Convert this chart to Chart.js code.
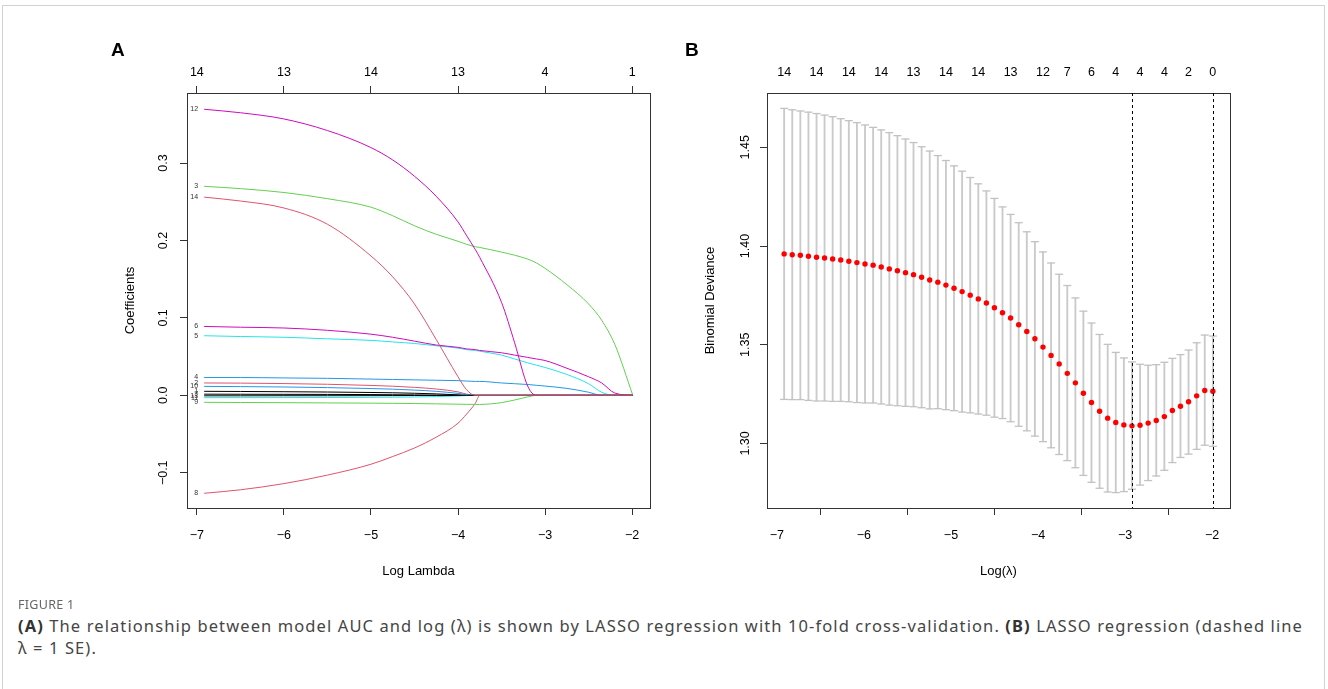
<!DOCTYPE html>
<html>
<head>
<meta charset="utf-8">
<script src="https://cdn.jsdelivr.net/npm/chart.js@4.4.1/dist/chart.umd.min.js"></script>
<style>
  html, body { margin: 0; padding: 0; background: #fff; }
  body { width: 1328px; height: 689px; position: relative; overflow: hidden; }
  .frame { position: absolute; left: 2px; top: 5px; width: 1321px; height: 720px; border: 1px solid #d2d2d2; }
  #wrapA { position: absolute; left: 0; top: 0; width: 680px; height: 600px; }
  #wrapB { position: absolute; left: 680px; top: 0; width: 648px; height: 600px; }
  .panel { position: absolute; font: bold 19px "Liberation Sans", Arial, sans-serif; color: #000; line-height: 19px; }
  .fig { position: absolute; left: 18px; top: 596px; font: 12.5px "Noto Sans", sans-serif; color: #666; letter-spacing: 0.3px; }
  .cap { position: absolute; left: 18px; top: 615px; font: 16.5px "Noto Sans", sans-serif; color: #454545; line-height: 22px; white-space: nowrap; letter-spacing: 1.1px; }
  .cap b { color: #333; }
</style>
</head>
<body>
<div class="frame"></div>
<div id="wrapA"><canvas id="chartA" width="680" height="600"></canvas></div>
<div id="wrapB"><canvas id="chartB" width="648" height="600"></canvas></div>
<div class="panel" style="left:111px; top:40px;">A</div>
<div class="panel" style="left:685px; top:40px;">B</div>
<div class="fig">FIGURE 1</div>
<div class="cap"><b>(A)</b> The relationship between model AUC and log (λ) is shown by LASSO regression with 10-fold cross-validation. <b>(B)</b> LASSO regression (dashed line<br>λ = 1 SE).</div>

<script>
const FONT = '"Liberation Sans", Arial, sans-serif';
const minus = v => String(v).replace('-', '\u2212');

// ---- panel A: coefficient paths ----
const pathLambda = [-6.916, -6.5, -6.0, -5.5, -5.0, -4.75, -4.5, -4.25, -4.0, -3.9, -3.8, -3.75, -3.5, -3.35, -3.2, -3.1, -3.0, -2.75, -2.5, -2.35, -2.2, -1.992];

const coef1  = [0.0052, 0.0050, 0.0047, 0.0043, 0.0037, 0.0033, 0.0027, 0.0019, 0.0006, 0, 0, 0, 0, 0, 0, 0, 0, 0, 0, 0, 0, 0];
const coef2  = [0.0160, 0.0158, 0.0152, 0.0143, 0.0128, 0.0118, 0.0103, 0.0082, 0.0045, 0.0015, 0, 0, 0, 0, 0, 0, 0, 0, 0, 0, 0, 0];
const coef3  = [0.270, 0.267, 0.262, 0.254, 0.243, 0.232, 0.219, 0.208, 0.199, 0.195, 0.192, 0.191, 0.185, 0.181, 0.176, 0.171, 0.164, 0.143, 0.118, 0.097, 0.066, 0];
const coef4  = [0.0230, 0.0230, 0.0225, 0.0220, 0.0210, 0.0205, 0.0200, 0.0195, 0.0190, 0.0185, 0.0180, 0.0180, 0.0160, 0.0150, 0.0140, 0.0130, 0.0120, 0.0090, 0.0040, 0, 0, 0];
const coef5  = [0.077, 0.076, 0.075, 0.073, 0.071, 0.069, 0.067, 0.064, 0.061, 0.059, 0.058, 0.057, 0.052, 0.047, 0.042, 0.039, 0.036, 0.027, 0.015, 0.004, 0, 0];
const coef6  = [0.089, 0.088, 0.087, 0.084, 0.079, 0.075, 0.070, 0.065, 0.062, 0.060, 0.059, 0.058, 0.055, 0.052, 0.049, 0.047, 0.045, 0.035, 0.024, 0.016, 0.003, 0];
const coef7  = [0.0015, 0.0014, 0.0013, 0.0012, 0.0010, 0.0008, 0.0006, 0.0003, 0.0001, 0, 0, 0, 0, 0, 0, 0, 0, 0, 0, 0, 0, 0];
const coef8  = [-0.1265, -0.122, -0.114, -0.103, -0.089, -0.079, -0.068, -0.054, -0.036, -0.024, -0.010, 0, 0, 0, 0, 0, 0, 0, 0, 0, 0, 0];
const coef9  = [-0.0090, -0.0092, -0.0095, -0.0098, -0.0101, -0.0103, -0.0106, -0.0110, -0.0114, -0.0116, -0.0117, -0.0117, -0.0094, -0.0060, -0.0020, 0, 0, 0, 0, 0, 0, 0];
const coef10 = [0.0116, 0.0113, 0.0108, 0.0100, 0.0088, 0.0080, 0.0068, 0.0052, 0.0025, 0.0010, 0, 0, 0, 0, 0, 0, 0, 0, 0, 0, 0, 0];
const coef11 = [-0.0030, -0.0030, -0.0029, -0.0028, -0.0026, -0.0024, -0.0021, -0.0016, -0.0008, -0.0003, 0, 0, 0, 0, 0, 0, 0, 0, 0, 0, 0, 0];
const coef12 = [0.3695, 0.365, 0.357, 0.342, 0.320, 0.304, 0.283, 0.257, 0.224, 0.206, 0.188, 0.178, 0.120, 0.068, 0.012, 0, 0, 0, 0, 0, 0, 0];
const coef13 = [-0.0006, -0.0006, -0.0005, -0.0005, -0.0004, -0.0003, -0.0002, -0.0001, 0, 0, 0, 0, 0, 0, 0, 0, 0, 0, 0, 0, 0, 0];
const coef14 = [0.256, 0.251, 0.242, 0.221, 0.180, 0.153, 0.118, 0.072, 0.024, 0.007, 0, 0, 0, 0, 0, 0, 0, 0, 0, 0, 0, 0];

const xTicks = [-7, -6, -5, -4, -3, -2];
const dfTopA = ['14', '13', '14', '13', '4', '1'];
const yTicksA = [-0.1, 0.0, 0.1, 0.2, 0.3];
const yLabelsA = ['\u22120.1', '0.0', '0.1', '0.2', '0.3'];

// R's matplot colours 1:6
const rCols = ['#000000', '#DF536B', '#61D04F', '#2297E6', '#28E2E5', '#CD0BBC'];

// ---- panel B: cross-validation curve ----
const logLambdaB = [-6.916, -6.823, -6.730, -6.637, -6.544, -6.452, -6.359, -6.266, -6.173, -6.080,
  -5.987, -5.894, -5.801, -5.708, -5.615, -5.522, -5.430, -5.337, -5.244, -5.151,
  -5.058, -4.965, -4.872, -4.779, -4.686, -4.593, -4.501, -4.408, -4.315, -4.222,
  -4.129, -4.036, -3.943, -3.850, -3.757, -3.664, -3.571, -3.479, -3.386, -3.293,
  -3.200, -3.107, -3.014, -2.921, -2.828, -2.735, -2.642, -2.549, -2.457, -2.364,
  -2.271, -2.178, -2.085, -1.992];
const meanDev = [1.3960, 1.3956, 1.3953, 1.3948, 1.3943, 1.3939, 1.3934, 1.3929, 1.3923, 1.3916,
  1.3909, 1.3903, 1.3894, 1.3884, 1.3875, 1.3865, 1.3855, 1.3842, 1.3828, 1.3817,
  1.3802, 1.3786, 1.3769, 1.3751, 1.3732, 1.3711, 1.3687, 1.3662, 1.3635, 1.3601,
  1.3567, 1.3530, 1.3488, 1.3446, 1.3403, 1.3355, 1.3307, 1.3254, 1.3207, 1.3163,
  1.3128, 1.3106, 1.3094, 1.3089, 1.3092, 1.3103, 1.3116, 1.3136, 1.3167, 1.3188,
  1.3211, 1.3241, 1.3268, 1.3264];
const upperDev = [1.4697, 1.4690, 1.4684, 1.4678, 1.4671, 1.4663, 1.4655, 1.4645, 1.4635, 1.4625,
  1.4613, 1.4601, 1.4588, 1.4574, 1.4559, 1.4542, 1.4524, 1.4503, 1.4481, 1.4458,
  1.4433, 1.4406, 1.4379, 1.4347, 1.4315, 1.4279, 1.4241, 1.4198, 1.4160, 1.4118,
  1.4072, 1.4022, 1.3970, 1.3914, 1.3857, 1.3800, 1.3737, 1.3670, 1.3610, 1.3552,
  1.3502, 1.3461, 1.3433, 1.3413, 1.3401, 1.3396, 1.3399, 1.3411, 1.3431, 1.3450,
  1.3473, 1.3510, 1.3549, 1.3544];
const lowerDev = [1.3223, 1.3222, 1.3222, 1.3218, 1.3215, 1.3215, 1.3213, 1.3213, 1.3211, 1.3207,
  1.3205, 1.3205, 1.3200, 1.3194, 1.3191, 1.3188, 1.3186, 1.3181, 1.3175, 1.3176,
  1.3171, 1.3166, 1.3159, 1.3155, 1.3149, 1.3143, 1.3133, 1.3126, 1.3110, 1.3087,
  1.3064, 1.3037, 1.3009, 1.2978, 1.2944, 1.2913, 1.2877, 1.2838, 1.2803, 1.2773,
  1.2754, 1.2751, 1.2756, 1.2768, 1.2789, 1.2812, 1.2835, 1.2864, 1.2903, 1.2929,
  1.2946, 1.2970, 1.2991, 1.2985];
const topTickLambdaB = [-6.916, -6.544, -6.173, -5.801, -5.430, -5.058, -4.686, -4.315, -3.943, -3.664, -3.386, -3.107, -2.828, -2.549, -2.271, -1.992];
const dfTopB = ['14', '14', '14', '14', '13', '14', '14', '13', '12', '7', '6', '4', '4', '4', '2', '0'];
const dashedLambda = [-2.921, -1.992];
const yTicksB = [1.30, 1.35, 1.40, 1.45];
const yLabelsB = ['1.30', '1.35', '1.40', '1.45'];

// ---- helpers ----
function boxPlugin() {
    return {
        id: 'rBox',
        afterDatasetsDraw(chart) {
            const a = chart.chartArea, ctx = chart.ctx;
            ctx.save();
            ctx.strokeStyle = '#333';
            ctx.lineWidth = 1;
            ctx.strokeRect(Math.round(a.left) + 0.5, Math.round(a.top) + 0.5, Math.round(a.right - a.left), Math.round(a.bottom - a.top));
            ctx.restore();
        }
    };
}

function yLabelPlugin(values, labels, offset) {
    return {
        id: 'rYLabels',
        afterDraw(chart) {
            const s = chart.scales.y, ctx = chart.ctx;
            ctx.save();
            ctx.font = '12.5px ' + FONT;
            ctx.fillStyle = '#000';
            ctx.textAlign = 'center';
            ctx.textBaseline = 'middle';
            values.forEach((v, i) => {
                ctx.save();
                ctx.translate(chart.chartArea.left - offset, s.getPixelForValue(v));
                ctx.rotate(-Math.PI / 2);
                ctx.fillText(labels[i], 0, 0);
                ctx.restore();
            });
            ctx.restore();
        }
    };
}

function xScale(tickVals, labelFn) {
    return {
        type: 'linear', position: 'bottom', min: -7.113, max: -1.795,
        afterBuildTicks: s => { s.ticks = tickVals.map(v => ({ value: v })); },
        afterFit: s => { s.height = 92; },
        ticks: { autoSkip: false, maxRotation: 0, padding: 13, color: '#000', font: { size: 12.5, family: FONT }, callback: labelFn },
        grid: { drawOnChartArea: false, tickLength: 7, tickColor: '#333', tickWidth: 1 },
        border: { display: false },
        title: { display: true, font: { size: 13, family: FONT }, color: '#000', padding: { top: 0, bottom: 21 } }
    };
}

function topScale(tickVals, labels, withTicks) {
    return {
        type: 'linear', position: 'top', min: -7.113, max: -1.795,
        afterBuildTicks: s => { s.ticks = tickVals.map(v => ({ value: v })); },
        afterFit: s => { s.height = 93; },
        ticks: { autoSkip: false, maxRotation: 0, padding: withTicks ? 6 : 13, color: '#000', font: { size: 12.5, family: FONT },
                 callback: (v, i) => labels[i] },
        grid: { drawOnChartArea: false, drawTicks: withTicks, tickLength: 7, tickColor: '#333', tickWidth: 1 },
        border: { display: false }
    };
}

// ---- chart A ----
const varOrder = [14, 13, 12, 11, 10, 9, 8, 7, 6, 5, 4, 3, 2, 1];
const coefs = { 1: coef1, 2: coef2, 3: coef3, 4: coef4, 5: coef5, 6: coef6, 7: coef7, 8: coef8, 9: coef9, 10: coef10, 11: coef11, 12: coef12, 13: coef13, 14: coef14 };

const pathSets = varOrder.map(k => ({
    label: String(k),
    data: pathLambda.map((x, i) => ({ x: x, y: coefs[k][i] })),
    borderColor: rCols[(k - 1) % 6],
    borderWidth: 1,
    pointRadius: 0,
    showLine: true,
    cubicInterpolationMode: 'monotone',
    fill: false
}));

const varLabelPlugin = {
    id: 'varLabels',
    afterDatasetsDraw(chart) {
        const ctx = chart.ctx, sx = chart.scales.x, sy = chart.scales.y;
        ctx.save();
        ctx.font = '7px ' + FONT;
        ctx.fillStyle = '#333';
        ctx.textAlign = 'right';
        ctx.textBaseline = 'middle';
        varOrder.forEach(k => {
            ctx.fillText(String(k), sx.getPixelForValue(pathLambda[0]) - 6, sy.getPixelForValue(coefs[k][0]));
        });
        ctx.restore();
    }
};

const xA = xScale(xTicks, v => minus(v));
xA.title.text = 'Log Lambda';

new Chart(document.getElementById('chartA'), {
    type: 'scatter',
    data: { datasets: pathSets },
    options: {
        responsive: false, animation: false, events: [],
        layout: { padding: { left: 0, right: 30, top: 0, bottom: 0 } },
        plugins: { legend: { display: false }, tooltip: { enabled: false } },
        scales: {
            x: xA,
            xTop: topScale(xTicks, dfTopA, true),
            y: {
                type: 'linear', position: 'left', min: -0.1455, max: 0.3905,
                afterBuildTicks: s => { s.ticks = yTicksA.map(v => ({ value: v })); },
                afterFit: s => { s.width = 187; },
                ticks: { display: false },
                grid: { drawOnChartArea: false, tickLength: 7, tickColor: '#333', tickWidth: 1 },
                border: { display: false },
                title: { display: true, text: 'Coefficients', font: { size: 13, family: FONT }, color: '#000', padding: { top: 123, bottom: 0 } }
            }
        }
    },
    plugins: [boxPlugin(), yLabelPlugin(yTicksA, yLabelsA, 23), varLabelPlugin]
});

// ---- chart B ----
const dashedPlugin = {
    id: 'lambdaLines',
    afterDatasetsDraw(chart) {
        const ctx = chart.ctx, sx = chart.scales.x, a = chart.chartArea;
        ctx.save();
        ctx.strokeStyle = '#000';
        ctx.lineWidth = 1;
        ctx.setLineDash([3, 3]);
        dashedLambda.forEach(v => {
            const px = Math.round(sx.getPixelForValue(v)) + 0.5;
            ctx.beginPath();
            ctx.moveTo(px, a.top);
            ctx.lineTo(px, a.bottom);
            ctx.stroke();
        });
        ctx.restore();
    }
};

const xB = xScale(xTicks, v => minus(v));
xB.title.text = 'Log(\u03bb)';

new Chart(document.getElementById('chartB'), {
    type: 'scatter',
    data: {
        datasets: [
            {
                label: 'mean',
                data: logLambdaB.map((x, i) => ({ x: x, y: meanDev[i] })),
                pointRadius: 2.7, pointBackgroundColor: '#ff0000', pointBorderWidth: 0, showLine: false
            },
            {
                label: 'upper',
                data: logLambdaB.map((x, i) => ({ x: x, y: upperDev[i] })),
                pointStyle: 'line', pointRadius: 4, pointBorderColor: '#c2c2c2', pointBorderWidth: 1.3, showLine: false
            },
            {
                label: 'lower',
                data: logLambdaB.map((x, i) => ({ x: x, y: lowerDev[i] })),
                pointStyle: 'line', pointRadius: 4, pointBorderColor: '#c2c2c2', pointBorderWidth: 1.3, showLine: false
            },
            {
                type: 'bar',
                label: 'se',
                data: logLambdaB.map((x, i) => ({ x: x, y: [lowerDev[i], upperDev[i]] })),
                backgroundColor: '#cacaca', borderWidth: 0, barThickness: 1.2, grouped: false
            }
        ]
    },
    options: {
        responsive: false, animation: false, events: [],
        layout: { padding: { left: 0, right: 98, top: 0, bottom: 0 } },
        plugins: { legend: { display: false }, tooltip: { enabled: false } },
        scales: {
            x: Object.assign(xB, { offset: false }),
            xTop: topScale(topTickLambdaB, dfTopB, false),
            y: {
                type: 'linear', position: 'left', min: 1.2673, max: 1.4775,
                afterBuildTicks: s => { s.ticks = yTicksB.map(v => ({ value: v })); },
                afterFit: s => { s.width = 87; },
                ticks: { display: false },
                grid: { drawOnChartArea: false, tickLength: 7, tickColor: '#333', tickWidth: 1 },
                border: { display: false },
                title: { display: true, text: 'Binomial Deviance', font: { size: 13, family: FONT }, color: '#000', padding: { top: 23, bottom: 0 } }
            }
        }
    },
    plugins: [boxPlugin(), yLabelPlugin(yTicksB, yLabelsB, 21), dashedPlugin]
});
</script>
</body>
</html>
